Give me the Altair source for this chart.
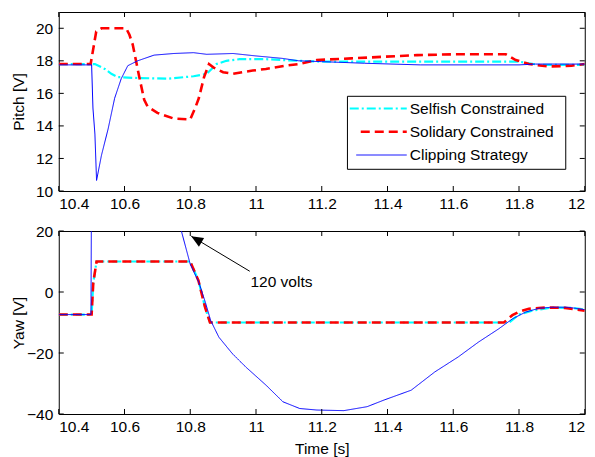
import altair as alt
import pandas as pd

# ---------------- data ----------------
# Top panel: Pitch [V]
t_pitch_selfish = [10.40, 10.51, 10.54, 10.56, 10.58, 10.63, 10.73, 10.81, 10.85, 10.88,
                   10.91, 10.95, 11.03, 11.13, 11.20, 11.50, 11.80, 11.83, 11.86, 12.00]
pitch_selfish = [17.8, 17.8, 17.5, 17.2, 17.0, 16.95, 16.9, 17.05, 17.2, 17.8,
                 18.0, 18.1, 18.1, 18.0, 17.95, 17.95, 17.95, 17.85, 17.75, 17.75]

t_pitch_solidary = [10.40, 10.497, 10.514, 10.53, 10.605, 10.615, 10.625, 10.635, 10.645, 10.66,
                    10.67, 10.70, 10.75, 10.80, 10.815, 10.826, 10.842, 10.857, 10.87, 10.90,
                    10.93, 10.99, 11.03, 11.09, 11.13, 11.185, 11.29, 11.39, 11.49, 11.60,
                    11.76, 11.79, 11.83, 11.89, 11.96, 12.00]
pitch_solidary = [17.8, 17.8, 19.8, 20.0, 20.0, 19.6, 19.0, 18.0, 17.0, 15.6,
                  15.2, 14.8, 14.45, 14.4, 15.1, 15.7, 17.0, 17.8, 17.6, 17.3,
                  17.2, 17.4, 17.5, 17.7, 17.8, 18.05, 18.15, 18.25, 18.35, 18.4,
                  18.4, 18.05, 17.8, 17.65, 17.7, 17.8]

t_pitch_clipping = [10.40, 10.50, 10.504, 10.51, 10.515, 10.53, 10.55, 10.57, 10.59, 10.61,
                    10.64, 10.69, 10.75, 10.81, 10.85, 10.93, 11.00, 11.08, 11.13, 11.20,
                    11.33, 11.50, 11.80, 11.85, 12.00]
pitch_clipping = [17.75, 17.75, 15.1, 13.5, 10.65, 12.2, 13.8, 15.7, 16.9, 17.7,
                  18.0, 18.35, 18.45, 18.5, 18.4, 18.45, 18.3, 18.15, 18.0, 17.95,
                  17.85, 17.75, 17.75, 17.8, 17.8]

# Bottom panel: Yaw [V]
t_yaw_selfish = [10.40, 10.50, 10.505, 10.515, 10.80, 10.825, 10.845, 10.86, 11.77, 11.80,
                 11.84, 11.90, 11.96, 12.00]
yaw_selfish = [-7.4, -7.4, 3.0, 10.0, 10.0, 3.7, -5.0, -10.0, -10.0, -7.4,
               -6.1, -5.1, -5.2, -5.8]

t_yaw_solidary = [10.40, 10.50, 10.505, 10.515, 10.80, 10.825, 10.845, 10.86, 11.754, 11.78,
                  11.80, 11.83, 11.88, 11.94, 12.00]
yaw_solidary = [-7.4, -7.4, 3.0, 10.0, 10.0, 3.7, -5.0, -10.0, -10.0, -7.6,
                -6.5, -5.5, -5.1, -5.2, -6.1]

t_yaw_clipping = [10.40, 10.498, 10.503, 10.70, 10.74, 10.773, 10.80, 10.826, 10.846, 10.862,
                  10.887, 10.928, 10.969, 11.03, 11.082, 11.133, 11.185, 11.267, 11.338, 11.39,
                  11.472, 11.544, 11.615, 11.677, 11.738, 11.78, 11.82, 11.862, 11.90, 11.95, 12.00]
yaw_clipping = [-7.4, -7.4, 120.0, 120.0, 45.0, 20.0, 9.1, 3.2, -3.4, -9.3,
                -14.8, -20.2, -24.6, -30.5, -36.0, -38.2, -38.7, -38.9, -37.6, -35.4,
                -32.2, -26.2, -21.3, -16.4, -12.1, -8.8, -6.6, -5.3, -5.0, -5.0, -5.8]

series_names = ["Selfish Constrained", "Solidary Constrained", "Clipping Strategy"]
x_ticks = [10.4, 10.6, 10.8, 11.0, 11.2, 11.4, 11.6, 11.8, 12.0]
pitch_ticks = [10, 12, 14, 16, 18, 20]
yaw_ticks = [-40, -20, 0, 20]

annotation_text = "120 volts"
arrow_tip = (10.803, 18.3)
arrow_tail = (10.981, 6.8)
annotation_pos = (10.983, 3.4)

# ---------------- styles ----------------
FONT = "Liberation Sans"
FS = 15.5
W = 526
H1 = 179
H2 = 183
colors = ["#00FFFF", "#FF0000", "#0000FF"]
dashes = [[9, 3, 2, 3], [9, 5], [1, 0]]
widths = [2.2, 2.6, 1.0]


def make_x(title):
    kw = dict(values=x_ticks, format="~g", labelPadding=5)
    if title:
        kw.update(title=title, titleY=34.5, titleBaseline="middle")
    else:
        kw.update(title=None)
    return alt.X("t:Q", scale=alt.Scale(domain=[10.4, 12.0], nice=False, zero=False),
                 axis=alt.Axis(**kw))


def make_y(domain, ticks, title, h):
    return alt.Y("v:Q", scale=alt.Scale(domain=domain, nice=False, zero=False),
                 axis=alt.Axis(values=ticks, title=title, labelPadding=6,
                               titleX=-40.5, titleY=h / 2, titleAngle=270,
                               titleBaseline="middle", titleAlign="center"))


def panel(series, domain, ticks, ytitle, h, xtitle, extra=None):
    X = make_x(xtitle)
    Y = make_y(domain, ticks, ytitle, h)
    layers = []
    for (tt, vv), c, d, w in zip(series, colors, dashes, widths):
        df = pd.DataFrame({"t": tt, "v": vv})
        layers.append(alt.Chart(df).mark_line(clip=True, color=c, strokeDash=d,
                                              strokeWidth=w).encode(x=X, y=Y))
    # inward ticks (MATLAB style, all four sides)
    xt = pd.DataFrame({"t": x_ticks})
    yt = pd.DataFrame({"v": ticks})
    layers.append(alt.Chart(xt).mark_rule(color="black", strokeWidth=1).encode(
        x=X, y=alt.value(h), y2=alt.value(h - 5)))
    layers.append(alt.Chart(xt).mark_rule(color="black", strokeWidth=1).encode(
        x=X, y=alt.value(0), y2=alt.value(5)))
    layers.append(alt.Chart(yt).mark_rule(color="black", strokeWidth=1).encode(
        y=Y, x=alt.value(0), x2=alt.value(5)))
    layers.append(alt.Chart(yt).mark_rule(color="black", strokeWidth=1).encode(
        y=Y, x=alt.value(W - 5), x2=alt.value(W)))
    if extra:
        layers += extra(X, Y)
    return alt.layer(*layers).properties(width=W, height=h)


def legend_layers(X, Y):
    one = pd.DataFrame({"a": [0]})
    out = [alt.Chart(one).mark_rect(fill="white", stroke="black", strokeWidth=1).encode(
        x=alt.value(288.7), x2=alt.value(507), y=alt.value(84.3), y2=alt.value(157.3))]
    rows = [96.5, 119.8, 143.0]
    starts = [291.0, 302.0, 297.5]
    for name, c, d, w, ry, sx in zip(series_names, colors, dashes, widths, rows, starts):
        out.append(alt.Chart(one).mark_rule(color=c, strokeDash=d, strokeWidth=w).encode(
            x=alt.value(sx), x2=alt.value(348), y=alt.value(ry)))
        out.append(alt.Chart(one).mark_text(align="left", baseline="middle", fontSize=FS,
                                            font=FONT, color="black").encode(
            x=alt.value(351), y=alt.value(ry), text=alt.value(name)))
    return out


def annotation_layers(X, Y):
    seg = pd.DataFrame({"t": [arrow_tail[0]], "v": [arrow_tail[1]],
                        "t2": [arrow_tip[0]], "v2": [arrow_tip[1]]})
    tip = pd.DataFrame({"t": [arrow_tip[0]], "v": [arrow_tip[1]]})
    lab = pd.DataFrame({"t": [annotation_pos[0]], "v": [annotation_pos[1]],
                        "txt": [annotation_text]})
    return [
        alt.Chart(seg).mark_rule(color="black", strokeWidth=1).encode(
            x=X, y=Y, x2="t2:Q", y2="v2:Q"),
        alt.Chart(tip).mark_point(shape="M0,0L-0.42,1L0.42,1Z", filled=True, color="black",
                                  opacity=1, size=576, angle=301, strokeWidth=0).encode(x=X, y=Y),
        alt.Chart(lab).mark_text(align="left", baseline="middle", fontSize=FS, font=FONT,
                                 color="black").encode(x=X, y=Y, text="txt:N"),
    ]


top = panel([(t_pitch_selfish, pitch_selfish), (t_pitch_solidary, pitch_solidary),
             (t_pitch_clipping, pitch_clipping)],
            [10, 21], pitch_ticks, "Pitch [V]", H1, None, legend_layers)
bottom = panel([(t_yaw_selfish, yaw_selfish), (t_yaw_solidary, yaw_solidary),
                (t_yaw_clipping, yaw_clipping)],
               [-40, 20], yaw_ticks, "Yaw [V]", H2, "Time [s]", annotation_layers)

chart = alt.vconcat(top, bottom, spacing=40, bounds="flush").properties(
    padding={"left": 10.75, "top": 11, "right": 0.5, "bottom": 2.5},
    background="white",
).configure_axis(
    labelFont=FONT, labelFontSize=FS, labelColor="black",
    titleFont=FONT, titleFontSize=FS, titleColor="black", titleFontWeight="normal",
    ticks=False, domain=False, grid=False,
).configure_view(stroke="black", strokeWidth=1)

chart.save("out.html", embed_options={"renderer": "svg", "actions": False})
